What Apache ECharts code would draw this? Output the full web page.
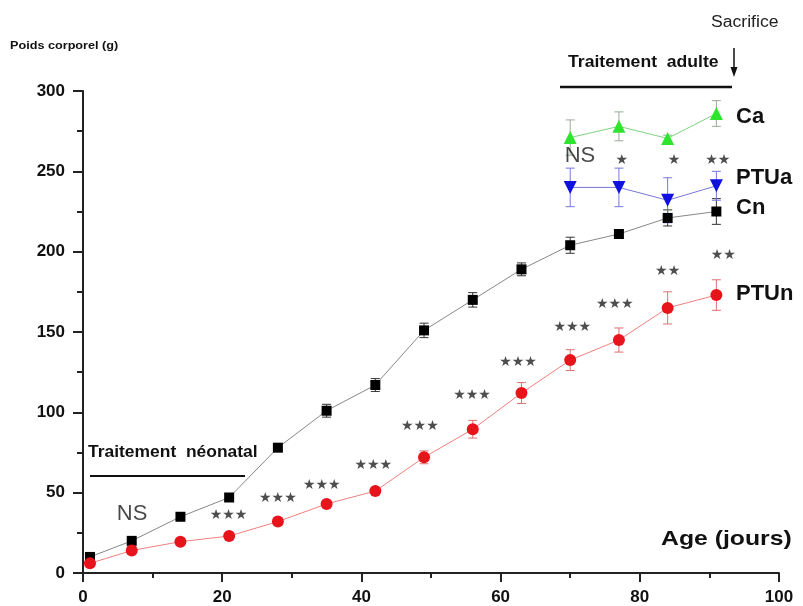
<!DOCTYPE html>
<html><head><meta charset="utf-8">
<script src="https://cdn.jsdelivr.net/npm/echarts@6/dist/echarts.min.js"></script>
<style>html,body{margin:0;padding:0;background:#fff}#c{width:803px;height:606px}</style>
</head><body><div id="c"></div>
<script>
var days = [1, 7, 14, 21, 28, 35, 42, 49, 56, 63, 70, 77, 84, 91];
var cnVals = [10, 20, 35, 47, 78, 101, 117, 151, 170, 189, 204, 211, 221, 225];
var cnErr  = [1, 1.5, 1.5, 2, 2, 4, 4, 4.5, 4.5, 4, 5, 2, 5, 8];
var ptunVals = [6, 14, 19.5, 23, 32, 43, 51, 72, 89.5, 112, 132.5, 145, 165, 173];
var ptunErr  = [1, 1, 1, 1.5, 2, 2, 2, 4, 5.5, 6.5, 6.5, 7.5, 10, 9.5];
var adultDays = [70, 77, 84, 91];
var caVals = [271, 278, 270.5, 286];
var caErr  = [11, 9, 2, 8];
var ptuaVals = [240, 240, 232, 241];
var ptuaErr  = [12, 12, 14, 9];
var xTicks = [0, 20, 40, 60, 80, 100];
var yTicks = [0, 50, 100, 150, 200, 250, 300];
var starsNeo = [[7.05, 36.6, 'NS'], [20.9, 36, '***'], [28, 46.7, '***'], [34.3, 54.8, '***'], [41.7, 67.2, '***'],
  [48.4, 91, '***'], [55.9, 110.8, '***'], [62.5, 130.8, '***'], [70.3, 152.6, '***'], [76.4, 167.5, '***'],
  [84, 188, '**'], [92, 197.4, '**']];
var starsAdult = [[71.4, 259.3, 'NS'], [77.4, 257, '*'], [84.9, 257, '*'], [91.2, 257, '**']];

function pairs(xs, ys) { return xs.map(function (x, i) { return [x, ys[i]]; }); }
function errData(xs, ys, es) { return xs.map(function (x, i) { return [x, ys[i] - es[i], ys[i] + es[i]]; }); }
function errSeries(xs, ys, es, color) {
  return {
    type: 'custom', z: 1, silent: true,
    data: errData(xs, ys, es),
    encode: { x: 0, y: [1, 2] },
    renderItem: function (params, api) {
      var lo = api.coord([api.value(0), api.value(1)]);
      var hi = api.coord([api.value(0), api.value(2)]);
      var w = 4.5;
      var st = { stroke: color, lineWidth: 1 };
      return { type: 'group', children: [
        { type: 'line', shape: { x1: lo[0], y1: lo[1], x2: hi[0], y2: hi[1] }, style: st },
        { type: 'line', shape: { x1: lo[0] - w, y1: lo[1], x2: lo[0] + w, y2: lo[1] }, style: st },
        { type: 'line', shape: { x1: hi[0] - w, y1: hi[1], x2: hi[0] + w, y2: hi[1] }, style: st }
      ]};
    }
  };
}

var chart = echarts.init(document.getElementById('c'));
var font = 'Liberation Sans, Arial, sans-serif';
var starAll = starsNeo.concat(starsAdult);

function txt(x, y, text, f, fill, sx) {
  return { type: 'text', x: x, y: y, scaleX: sx || 1, silent: true,
    style: { text: text, font: f, fill: fill || '#111', verticalAlign: 'top', align: 'left' } };
}

var option = {
  animation: false,
  backgroundColor: '#fff',
  grid: { left: 83, right: 24, top: 91, bottom: 33 },
  xAxis: {
    type: 'value', min: 0, max: 100, interval: 20,
    axisLine: { show: true, lineStyle: { color: '#222', width: 2 } },
    axisTick: { show: true, inside: false, length: 9, lineStyle: { color: '#222', width: 2 } },
    minorTick: { show: true, splitNumber: 2, length: 5, lineStyle: { color: '#222', width: 2 } },
    splitLine: { show: false },
    axisLabel: { color: '#111', fontSize: 17, fontWeight: 'bold', fontFamily: font, margin: 16,
      formatter: function (v) { return xTicks.indexOf(v) >= 0 ? String(v) : ''; } }
  },
  yAxis: {
    type: 'value', min: 0, max: 300, interval: 50,
    axisLine: { show: true, lineStyle: { color: '#222', width: 2 } },
    axisTick: { show: true, inside: false, length: 10, lineStyle: { color: '#222', width: 2 } },
    minorTick: { show: true, splitNumber: 2, length: 6, lineStyle: { color: '#222', width: 2 } },
    splitLine: { show: false },
    axisLabel: { color: '#111', fontSize: 17, fontWeight: 'bold', fontFamily: font, margin: 18,
      formatter: function (v) { return yTicks.indexOf(v) >= 0 ? String(v) : ''; } }
  },
  series: [
    errSeries(days, cnVals, cnErr, '#333'),
    errSeries(days, ptunVals, ptunErr, '#e07070'),
    errSeries(adultDays, caVals, caErr, '#9a9'),
    errSeries(adultDays, ptuaVals, ptuaErr, '#7777dd'),
    { name: 'Cn', type: 'line', data: pairs(days, cnVals), symbol: 'rect', symbolSize: 10,
      itemStyle: { color: '#000' }, lineStyle: { color: '#888', width: 1 }, z: 3 },
    { name: 'PTUn', type: 'line', data: pairs(days, ptunVals), symbol: 'circle', symbolSize: 12,
      itemStyle: { color: '#e8141c' }, lineStyle: { color: '#f08080', width: 1 }, z: 3 },
    { name: 'Ca', type: 'line', data: pairs(adultDays, caVals), symbol: 'triangle', symbolSize: 13,
      itemStyle: { color: '#2ee52e' }, lineStyle: { color: '#7fd27f', width: 1 }, z: 3 },
    { name: 'PTUa', type: 'line', data: pairs(adultDays, ptuaVals), symbol: 'triangle', symbolRotate: 180, symbolSize: 13,
      itemStyle: { color: '#1010e0' }, lineStyle: { color: '#7777dd', width: 1 }, z: 3 },
    {
      type: 'scatter', symbolSize: 0, silent: true, z: 5,
      data: starAll.map(function (d) { return { value: [d[0], d[1]], name: d[2] }; }),
      label: {
        show: true, position: 'inside', color: '#222',
        formatter: function (p) {
          return p.name === 'NS' ? '{ns|NS}' : '{s|' + p.name.replace(/\*/g, '\u2605') + '}';
        },
        rich: {
          ns: { fontSize: 22, fontWeight: 'normal', fontFamily: font, color: '#1a1a1a' },
          s: { fontSize: 14, fontFamily: 'DejaVu Sans, sans-serif', color: '#222' }
        }
      }
    }
  ],
  graphic: [
    txt(10, 40, 'Poids corporel (g)', 'bold 11px ' + font, '#111', 1.15),
    txt(88, 445, 'Traitement  néonatal', 'bold 16px ' + font, '#111', 1.09),
    { type: 'line', silent: true, shape: { x1: 90, y1: 476, x2: 245, y2: 476 }, style: { stroke: '#111', lineWidth: 2 } },
    txt(568, 55, 'Traitement  adulte', 'bold 16px ' + font, '#111', 1.1),
    { type: 'line', silent: true, shape: { x1: 560, y1: 87, x2: 732, y2: 87 }, style: { stroke: '#111', lineWidth: 2.5 } },
    txt(711, 15, 'Sacrifice', '16px ' + font, '#222', 1.1),
    { type: 'line', silent: true, shape: { x1: 734, y1: 48, x2: 734, y2: 72 }, style: { stroke: '#111', lineWidth: 1.5 } },
    { type: 'polygon', silent: true, shape: { points: [[730.5, 67], [737.5, 67], [734, 77]] }, style: { fill: '#111' } },
    txt(661, 529, 'Age (jours)', 'bold 21px ' + font, '#111', 1.18),
    txt(736, 106, 'Ca', 'bold 22px ' + font),
    txt(736, 167, 'PTUa', 'bold 22px ' + font),
    txt(736, 197, 'Cn', 'bold 22px ' + font),
    txt(736, 283, 'PTUn', 'bold 22px ' + font)
  ]
};
chart.setOption(option);
</script></body></html>
